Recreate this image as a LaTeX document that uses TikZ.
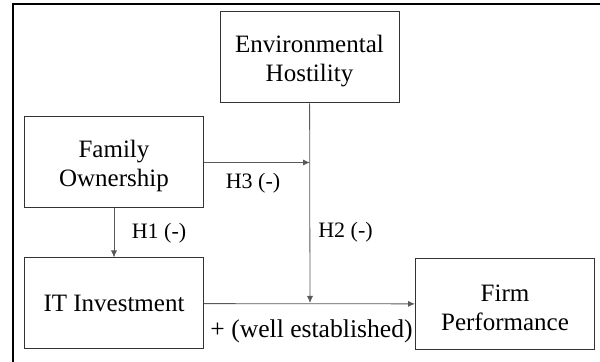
\documentclass[tikz,border=0pt]{standalone}
\usepackage{fontspec}
\setmainfont{Liberation Serif}
\usepackage{tikz}
\usetikzlibrary{arrows.meta,positioning}

\newcommand{\boxstrut}{\rule{0pt}{12pt}}

\begin{document}
\begin{tikzpicture}[
  x=0.5pt, y=-0.5pt,
  var/.style={draw=black!80, line width=0.5pt, align=center, inner sep=0pt,
              minimum width=89.5pt, minimum height=45.5pt,
              font=\fontsize{12.5}{14.5}\selectfont},
  lbl/.style={inner sep=0pt, font=\fontsize{11}{13}\selectfont},
  arr/.style={-{Latex[length=3.5pt,width=3pt]}, draw=black!65, line width=0.4pt}
]
\useasboundingbox (0,0) rectangle (600,362);
\draw[line width=1pt] (13,362) -- (13,4) -- (600,4);

\node[var] (env)   at (309.5,57.5) {\boxstrut Environmental\\Hostility};
\node[var] (fam)   at (114,162.5)  {\boxstrut Family\\Ownership};
\node[var] (itinv) at (114,303.5)  {IT Investment};
\node[var] (perf)  at (505,304)    {\boxstrut Firm\\Performance};
\coordinate (mod) at (310,303);

\draw[arr] (itinv) -- (perf);
\draw[arr] (fam) -- (itinv);
\draw[arr] (env) -- (mod);
\draw[arr] (fam.east) -- (fam.east -| mod);

\node[lbl] (h3) at (253,183)   {H3 (-)};
\node[lbl] (h1) at (159,233)   {H1 (-)};
\node[lbl] (h2) at (345.5,232) {H2 (-)};
\node[lbl, font=\fontsize{12.8}{15}\selectfont] (est) at (311.5,331) {+ (well established)};
\end{tikzpicture}
\end{document}
